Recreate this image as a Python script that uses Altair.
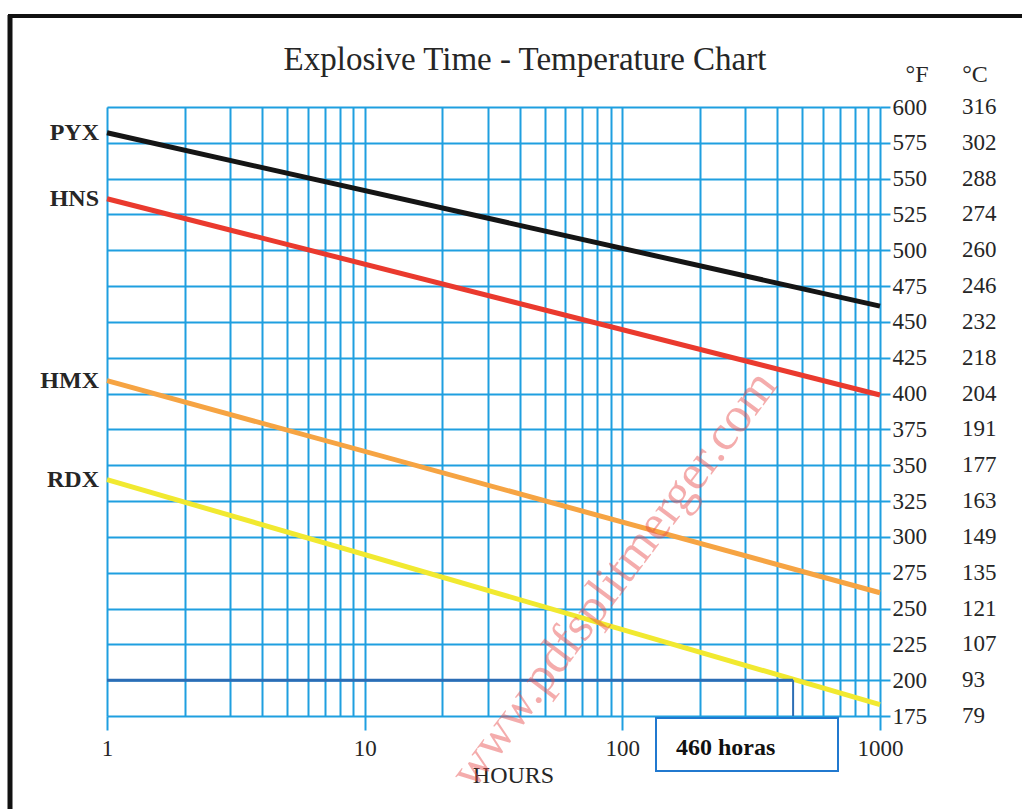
import altair as alt
import pandas as pd

# ---------------- data ----------------
series = ["PYX", "HNS", "HMX", "RDX"]
series_colors = ["#151515", "#ea3a2e", "#f6a443", "#f1e930"]
hours_ends = [1, 1000]
temp_at_1h = [582, 536, 409, 340]
temp_at_1000h = [461, 399, 261, 183]

x_grid_values = [1, 2, 3, 4, 5, 6, 7, 8, 9, 10,
                 20, 30, 40, 50, 60, 70, 80, 90, 100,
                 200, 300, 400, 500, 600, 700, 800, 900, 1000]
x_label_values = [1, 10, 100, 1000]
x_label_texts = ["1", "10", "100", "1000"]

f_ticks = [175, 200, 225, 250, 275, 300, 325, 350, 375, 400,
           425, 450, 475, 500, 525, 550, 575, 600]
c_labels = ["79", "93", "107", "121", "135", "149", "163", "177", "191", "204",
            "218", "232", "246", "260", "274", "288", "302", "316"]

marker_hours = 460
marker_temp = 200
marker_text = "460 horas"
title_text = "Explosive Time - Temperature Chart"
x_title = "HOURS"
watermark = "www.pdfsplitmerger.com"

# ---------------- styling ----------------
BLUE = "#1f9fe0"
DARK_BLUE = "#2c6db5"
TXT = "#262626"
FONT = "Liberation Serif"
W, H = 773, 609

lines_rows = []
for s, a, b in zip(series, temp_at_1h, temp_at_1000h):
    lines_rows.append({"series": s, "hours": hours_ends[0], "temp": a})
    lines_rows.append({"series": s, "hours": hours_ends[1], "temp": b})
lines_df = pd.DataFrame(lines_rows)
start_df = pd.DataFrame({"series": series, "hours": [hours_ends[0]] * len(series), "temp": temp_at_1h})
c_df = pd.DataFrame({"temp": f_ticks, "C": c_labels})

xscale = alt.Scale(type="log", domain=[hours_ends[0], hours_ends[1]], nice=False)
yscale = alt.Scale(domain=[f_ticks[0], f_ticks[-1]], nice=False, zero=False)

label_expr = ""
for v, t in zip(x_label_values, x_label_texts):
    label_expr += f"datum.value == {v} ? '{t}' : "
label_expr += "''"
decade_test = "indexof([" + ",".join(str(v) for v in x_label_values) + "], datum.value) >= 0"

x_axis = alt.Axis(
    values=x_grid_values, grid=True, gridColor=BLUE, gridWidth=2, gridOpacity=1,
    domain=False, ticks=True, tickSize=14, tickWidth=2,
    tickColor={"condition": {"test": decade_test, "value": BLUE}, "value": "transparent"},
    labelExpr=label_expr,
    labelFont=FONT, labelFontSize=23, labelColor=TXT, labelPadding=18,
    labelBaseline="middle", labelFlush=False, labelOverlap=False,
    title=x_title, titleFont=FONT, titleFontSize=24, titleFontWeight="normal",
    titleColor=TXT, titleX=406, titleY=59, titleBaseline="middle", titleAlign="center",
)
y_axis = alt.Axis(
    orient="right", values=f_ticks, grid=True, gridColor=BLUE, gridWidth=2, gridOpacity=1,
    domain=False, tickSize=10, tickWidth=2, tickColor=BLUE, format="d",
    labelFont=FONT, labelFontSize=23, labelColor=TXT, labelPadding=2,
    labelBaseline="middle", labelFlush=False, labelOverlap=False, title=None,
)


def X(field="hours"):
    return alt.X(f"{field}:Q", scale=xscale, axis=x_axis)


def Y(field="temp"):
    return alt.Y(f"{field}:Q", scale=yscale, axis=y_axis)


one = pd.DataFrame({"k": [0]})

lines = alt.Chart(lines_df).mark_line(strokeWidth=5, strokeCap="butt").encode(
    x=X(), y=Y(),
    color=alt.Color("series:N", scale=alt.Scale(domain=series, range=series_colors), legend=None),
    detail="series:N",
)

# marker rules (200 °F / 460 h)
hline = alt.Chart(pd.DataFrame({"hours": [hours_ends[0]], "hours2": [marker_hours], "temp": [marker_temp]})).mark_rule(
    color=DARK_BLUE, strokeWidth=3).encode(x=X(), x2="hours2:Q", y=Y())
vline = alt.Chart(pd.DataFrame({"hours": [marker_hours], "temp": [marker_temp], "temp2": [f_ticks[0]]})).mark_rule(
    color=DARK_BLUE, strokeWidth=2).encode(x=X(), y=Y(), y2="temp2:Q")

series_labels = alt.Chart(start_df).mark_text(
    align="right", baseline="middle", dx=-8, font=FONT, fontSize=24, fontWeight="bold", color=TXT
).encode(x=X(), y=Y(), text="series:N")

c_text = alt.Chart(c_df).mark_text(
    align="left", baseline="middle", font=FONT, fontSize=23, color=TXT
).encode(x=alt.value(855), y=Y(), text="C:N")

hdr_f = alt.Chart(pd.DataFrame({"t": ["°F"]})).mark_text(
    align="center", baseline="middle", font=FONT, fontSize=24, color=TXT
).encode(x=alt.value(810), y=alt.value(-32), text="t:N")
hdr_c = alt.Chart(pd.DataFrame({"t": ["°C"]})).mark_text(
    align="center", baseline="middle", font=FONT, fontSize=24, color=TXT
).encode(x=alt.value(868), y=alt.value(-32), text="t:N")

title = alt.Chart(pd.DataFrame({"t": [title_text]})).mark_text(
    align="center", baseline="middle", font=FONT, fontSize=33, color=TXT
).encode(x=alt.value(418), y=alt.value(-47), text="t:N")

box = alt.Chart(one).mark_rect(fill="white", stroke="#2179cf", strokeWidth=2).encode(
    x=alt.value(549), x2=alt.value(731), y=alt.value(611), y2=alt.value(664))
box_text = alt.Chart(pd.DataFrame({"t": [marker_text]})).mark_text(
    align="left", baseline="middle", font=FONT, fontSize=24, fontWeight="bold", color="#111111"
).encode(x=alt.value(569), y=alt.value(641), text="t:N")

wm = alt.Chart(pd.DataFrame({"t": [watermark]})).mark_text(
    align="center", baseline="middle", font=FONT, fontSize=50, color="#e84a4a", opacity=0.45, angle=307
).encode(x=alt.value(507), y=alt.value(472), text="t:N")

frame_left = alt.Chart(one).mark_rule(color="#111111", strokeWidth=5).encode(
    x=alt.value(-97), y=alt.value(-92), y2=alt.value(702))
frame_top = alt.Chart(one).mark_rule(color="#111111", strokeWidth=4).encode(
    x=alt.value(-99), x2=alt.value(915), y=alt.value(-91))

chart = alt.layer(
    lines, hline, vline, series_labels, c_text, hdr_f, hdr_c, title, box, box_text, wm, frame_left, frame_top
).properties(
    width=W, height=H,
    autosize=alt.AutoSizeParams(type="none"),
    padding={"left": 107, "top": 107, "right": 142, "bottom": 93},
).configure_view(stroke=None).configure(background="white")

chart.save("out.html", embed_options={"renderer": "svg", "actions": False})
